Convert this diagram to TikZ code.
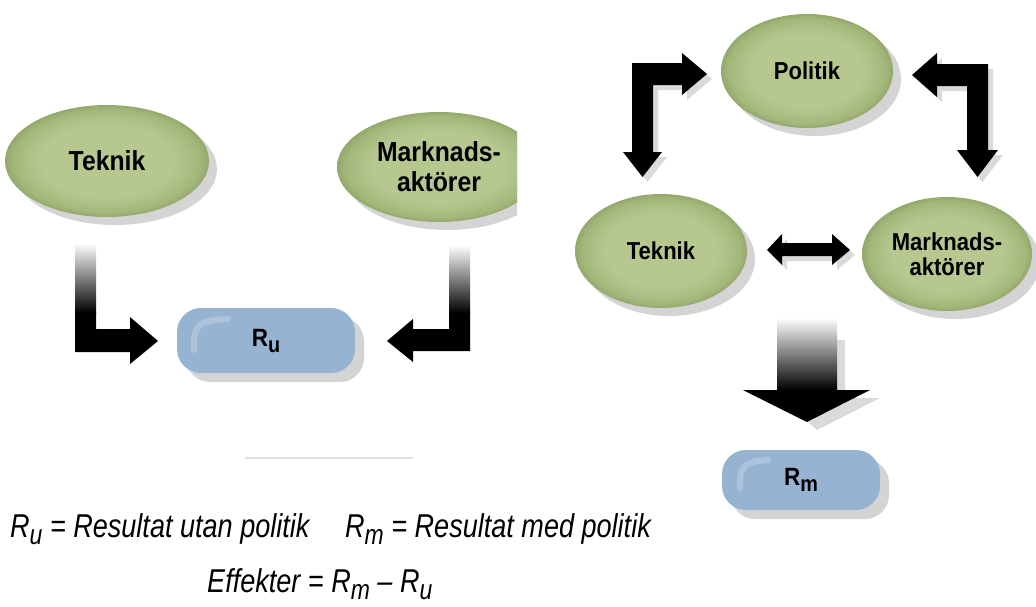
\documentclass[tikz,border=0pt]{standalone}
\usepackage{fontspec}
\setmainfont{Liberation Sans}
\newfontfamily\labelfont[FakeStretch=0.9]{Liberation Sans}
\newfontfamily\formulafont[FakeStretch=0.82]{Liberation Sans}
\usetikzlibrary{shapes.geometric,shadows}

\definecolor{podIn}{RGB}{182,200,144}
\definecolor{podOut}{RGB}{163,183,122}
\definecolor{podRim}{RGB}{148,168,108}
\definecolor{boxFill}{RGB}{151,179,210}
\definecolor{shadowGray}{RGB}{212,212,212}
\definecolor{arrowShadow}{RGB}{218,218,218}
\definecolor{ruleGray}{RGB}{225,225,225}

\pgfdeclareradialshading{podshade}{\pgfpoint{0bp}{0bp}}{color(0bp)=(podIn); color(16bp)=(podIn); color(23bp)=(podOut); color(25bp)=(podRim); color(50bp)=(podRim)}

\tikzset{
  pod/.style 2 args={ellipse, inner sep=0pt, minimum width=#1pt, minimum height=#2pt,
    shade, shading=podshade, align=center,
    drop shadow={shadow xshift=8pt, shadow yshift=-8pt, fill=shadowGray, opacity=1}},
  bigtext/.style={font=\labelfont\bfseries\fontsize{27.5}{30}\selectfont},
  smalltext/.style={font=\labelfont\bfseries\fontsize{24.5}{25}\selectfont},
  resbox/.style={rectangle, rounded corners=24pt, fill=boxFill, inner sep=0pt,
    drop shadow={shadow xshift=9pt, shadow yshift=-9pt, fill=shadowGray, opacity=1},
    font=\labelfont\bfseries\fontsize{25}{26}\selectfont},
  gloss/.style={white, opacity=0.22, line width=6pt, line cap=round},
  formula/.style={anchor=base west, inner sep=0pt, font=\formulafont\itshape\fontsize{33}{36}\selectfont},
}
\newcommand{\boxsub}[1]{\raisebox{-6pt}{\fontsize{22}{22}\selectfont #1}}
\newcommand{\fsub}[1]{\raisebox{-7pt}{\fontsize{28}{28}\selectfont #1}}

\begin{document}
\begin{tikzpicture}[x=1pt, y=-1pt]
\fill[white] (0,0) rectangle (1036,606);
\useasboundingbox (0,0) rectangle (1036,606);

% ---------- without policy (left) ----------
\node[pod={204}{112}, bigtext] (tekL) at (107,161) {Teknik};
\begin{scope}
  \clip (0,0) rectangle (517,606);
  \node[pod={204}{110}, bigtext] (markL) at (439,167) {Marknads-\\aktörer};
\end{scope}

\node[resbox, minimum width=178pt, minimum height=65pt] (ru) at (266,340.5) {R\boxsub{u}};
\draw[gloss] (194,350) .. controls (193,326) and (198,320) .. (228,319);

% bent arrow from Teknik down into R_u
\fill[black] (75,312) -- (96,312) -- (96,329) -- (130,329) -- (130,317) -- (158,341)
  -- (130,364) -- (130,352) -- (75,352) -- cycle;
\shade[top color=white, bottom color=black] (75,243) rectangle (96,313);

% bent arrow from Marknadsaktorer down into R_u
\fill[black] (449,312) -- (470,312) -- (470,351) -- (413,351) -- (413,362) -- (387,341)
  -- (413,319) -- (413,329) -- (449,329) -- cycle;
\shade[top color=white, bottom color=black] (449,245) rectangle (470,313);

\draw[ruleGray, line width=2pt] (245,458) -- (413,458);

% ---------- with policy (right) ----------
\node[pod={172}{114}, smalltext] (pol) at (807,71) {Politik};
\node[pod={172}{114}, smalltext] (tekR) at (661,251) {Teknik};
\node[pod={170}{114}, smalltext] (markR) at (947,254) {Marknads-\\aktörer};

\foreach \s/\c in {5/arrowShadow, 0/black} {
  % Politik <-> Teknik
  \fill[\c, xshift=\s pt, yshift=-\s pt] (632,152) -- (632,63) -- (682,63) -- (682,53)
    -- (707,74) -- (682,95) -- (682,85) -- (653,85) -- (653,152) -- (662,152)
    -- (642.5,177) -- (623,152) -- cycle;
  % Politik <-> Marknadsaktorer
  \fill[\c, xshift=\s pt, yshift=-\s pt] (988,64) -- (988,150) -- (998,150) -- (977.5,177)
    -- (957,150) -- (967,150) -- (967,86) -- (937,86) -- (937,97) -- (912,75)
    -- (937,53) -- (937,64) -- cycle;
  % Teknik <-> Marknadsaktorer
  \fill[\c, xshift=\s pt, yshift=-\s pt] (767,250) -- (782,234) -- (782,243) -- (832,243)
    -- (832,234) -- (850,250) -- (832,265) -- (832,256) -- (782,256) -- (782,265) -- cycle;
}

% downward arrow into R_m
\fill[arrowShadow] (837,340) -- (845,340) -- (845,398) -- (880,398) -- (817,430) -- (808,422) -- (870,390) -- (837,390) -- cycle;
\fill[black] (777,388) -- (837,388) -- (837,390) -- (870,390) -- (807,422) -- (743,390)
  -- (777,390) -- cycle;
\shade[top color=white, bottom color=black] (777,318) rectangle (837,390);

\node[resbox, minimum width=158pt, minimum height=60pt] (rm) at (801,480) {R\boxsub{m}};
\draw[gloss] (740,488) .. controls (739,467) and (744,461) .. (768,460);

% ---------- legend ----------
\node[formula] (defu) at (10,537) {R\fsub{u} = Resultat utan politik};
\node[formula] (defm) at (345,537) {R\fsub{m} = Resultat med politik};
\node[formula] (eff) at (207,592) {Effekter = R\fsub{m} – R\fsub{u}};
\end{tikzpicture}
\end{document}
